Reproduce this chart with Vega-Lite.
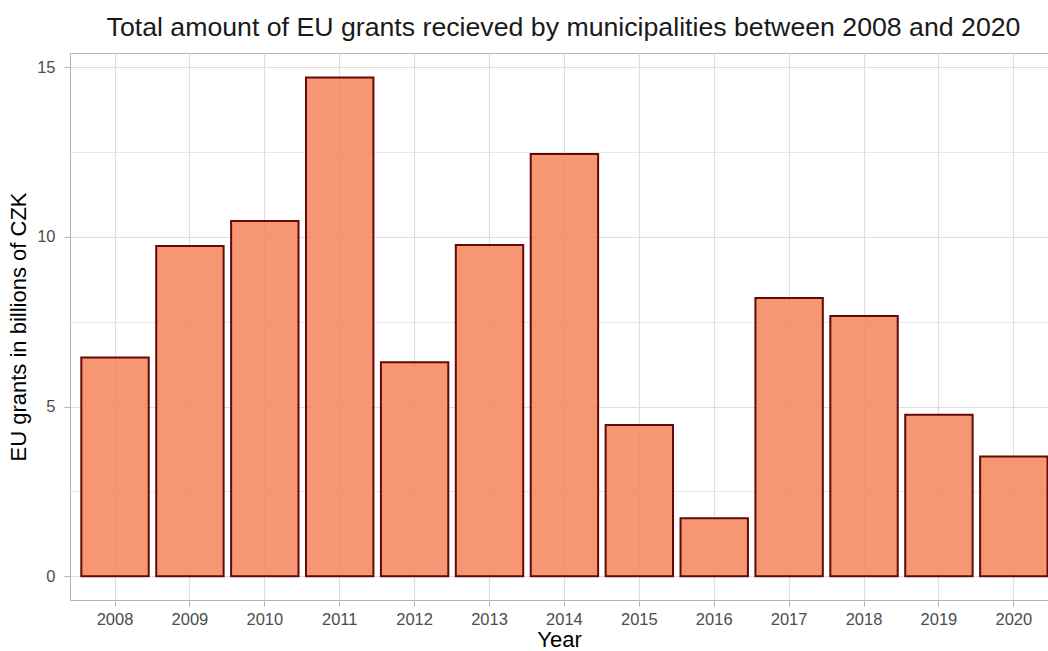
{
  "$schema": "https://vega.github.io/schema/vega-lite/v6.json",
  "width": 978,
  "height": 547,
  "autosize": {"type": "none"},
  "padding": {"left": 70, "top": 53, "right": 0, "bottom": 51},
  "background": "white",
  "title": {
    "text": "Total amount of EU grants recieved by municipalities between 2008 and 2020",
    "anchor": "middle",
    "font": "Liberation Sans",
    "fontSize": 26.7,
    "fontWeight": "normal",
    "color": "#1A1A1A",
    "offset": 11,
    "dx": 4.5
  },
  "config": {
    "view": {"stroke": "#B3B3B3", "strokeWidth": 1},
    "axis": {
      "labelFont": "Liberation Sans",
      "titleFont": "Liberation Sans",
      "labelFontSize": 16.5,
      "titleFontSize": 22,
      "labelColor": "#4D4D4D",
      "titleColor": "#000000",
      "titleFontWeight": "normal",
      "tickColor": "#B3B3B3",
      "tickSize": 6,
      "tickWidth": 1,
      "domain": false,
      "gridColor": "#DEDEDE"
    }
  },
  "data": {
    "values": [
      {"year": "2008", "grants": 6.45},
      {"year": "2009", "grants": 9.73},
      {"year": "2010", "grants": 10.47},
      {"year": "2011", "grants": 14.70},
      {"year": "2012", "grants": 6.31},
      {"year": "2013", "grants": 9.76},
      {"year": "2014", "grants": 12.44},
      {"year": "2015", "grants": 4.46},
      {"year": "2016", "grants": 1.71},
      {"year": "2017", "grants": 8.20},
      {"year": "2018", "grants": 7.67},
      {"year": "2019", "grants": 4.76},
      {"year": "2020", "grants": 3.53}
    ]
  },
  "mark": {
    "type": "bar",
    "fill": "#F6845A",
    "fillOpacity": 0.85,
    "stroke": "#650808",
    "strokeWidth": 2
  },
  "encoding": {
    "x": {
      "field": "year",
      "type": "ordinal",
      "title": "Year",
      "scale": {"paddingInner": 0.1, "paddingOuter": 0.0786, "align": 0.96},
      "axis": {
        "labelAngle": 0,
        "labelPadding": 5,
        "titlePadding": 2,
        "grid": true,
        "gridWidth": 1.2,
        "bandPosition": 0.5
      }
    },
    "y": {
      "field": "grants",
      "type": "quantitative",
      "title": "EU grants in billions of CZK",
      "scale": {"domain": [-0.7, 15.42], "nice": false, "zero": false},
      "axis": {
        "values": [0, 2.5, 5, 7.5, 10, 12.5, 15],
        "labelExpr": "datum.value % 5 === 0 ? datum.label : ''",
        "tickOpacity": {"condition": {"test": "datum.value % 5 !== 0", "value": 0}, "value": 1},
        "gridWidth": {"condition": {"test": "datum.value % 5 !== 0", "value": 0.7}, "value": 1.2},
        "labelPadding": 9,
        "titlePadding": 6
      }
    },
    "y2": {"datum": 0}
  }
}
